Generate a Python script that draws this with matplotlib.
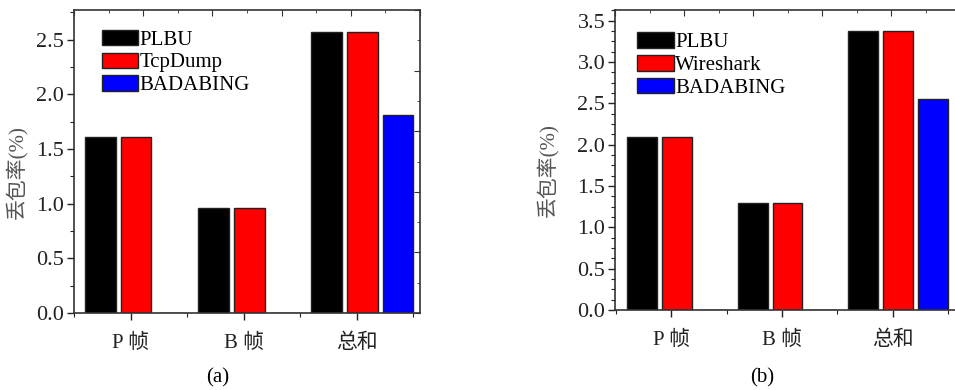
import matplotlib
matplotlib.use("Agg")
from matplotlib import pyplot as plt
from matplotlib.ticker import MultipleLocator, FormatStrFormatter
import numpy as np

plt.rcParams['font.family'] = ['Liberation Serif', 'Noto Sans CJK SC', 'DejaVu Sans']

categories = ['P 帧', 'B 帧', '总和']
plbu_a = [1.61, 0.96, 2.57]
tcpdump_a = [1.61, 0.96, 2.57]
badabing_a = [0, 0, 1.81]
plbu_b = [2.09, 1.29, 3.38]
wireshark_b = [2.09, 1.29, 3.38]
badabing_b = [0, 0, 2.55]

colors = ['black', '#ff0000', '#0000ff']
edge = '#222222'


def draw_panel(fig, rect, series, labels, ylim, yminor, xlim, leg_anchor, caption, cap_x,
               ylab_xy, right_ticks=True):
    ax = fig.add_axes(rect)
    x = np.arange(1, len(categories) + 1)
    width = 0.27
    for k, (vals, lab) in enumerate(zip(series, labels)):
        ax.bar(x + (k - 1) * 0.315 + 0.05, vals, width, color=colors[k],
               edgecolor=edge, linewidth=1.0, label=lab, zorder=2)
    ax.set_xlim(*xlim)
    ax.set_ylim(0, ylim)
    ax.set_xticks(x)
    ax.set_xticklabels(categories, fontsize=15)
    ax.xaxis.set_minor_locator(MultipleLocator(0.5))
    ax.yaxis.set_major_locator(MultipleLocator(0.5))
    ax.yaxis.set_minor_locator(MultipleLocator(yminor))
    ax.yaxis.set_major_formatter(FormatStrFormatter('%.1f'))
    ax.tick_params(axis='both', which='major', length=5, width=1.0, colors='#222222', labelsize=16)
    ax.tick_params(axis='x', which='major', labelsize=15, pad=10)
    ax.tick_params(axis='both', which='minor', length=3, width=0.8, colors='#222222')
    ax.tick_params(axis='y', which='major', pad=2)
    for s in ax.spines.values():
        s.set_color('#333333')
        s.set_linewidth(1.2)
    ax.set_ylabel('丢包率(%)', fontsize=15, color='#555555')
    ax.yaxis.set_label_coords(*ylab_xy)

    # frame ticks on top and right (independent 0-10 scale)
    top = ax.twiny()
    top.set_xlim(0, 10)
    top.xaxis.set_major_locator(MultipleLocator(2))
    top.xaxis.set_minor_locator(MultipleLocator(1))
    top.tick_params(axis='x', which='both', direction='in', labeltop=False, colors='#333333')
    top.tick_params(axis='x', which='major', length=4)
    top.tick_params(axis='x', which='minor', length=2)
    for s in top.spines.values():
        s.set_visible(False)
    if right_ticks:
        right = ax.twinx()
        right.set_ylim(0, 10)
        right.yaxis.set_major_locator(MultipleLocator(2))
        right.yaxis.set_minor_locator(MultipleLocator(1))
        right.tick_params(axis='y', which='both', direction='in', labelright=False, colors='#333333')
        right.tick_params(axis='y', which='major', length=4)
        right.tick_params(axis='y', which='minor', length=2)
        for s in right.spines.values():
            s.set_visible(False)
    else:
        ax.spines['right'].set_visible(False)

    ax.legend(loc='upper left', bbox_to_anchor=leg_anchor, frameon=False, fontsize=15,
              handlelength=1.75, handleheight=0.75, handletextpad=0.05, labelspacing=0.14,
              borderpad=0, borderaxespad=0)
    fig.text(cap_x, 1 - 378 / 390, caption, fontsize=15, ha='center', va='center')
    return ax


fig = plt.figure(figsize=(9.55, 3.9), dpi=100)
fig.patch.set_facecolor('white')

draw_panel(fig, [74 / 955, 1 - 313 / 390, 346 / 955, 303 / 390],
           [plbu_a, tcpdump_a, badabing_a], ['PLBU', 'TcpDump', 'BADABING'],
           2.77, 0.25, (0.5, 3.56), (0.08, 0.935), '(a)', 218 / 955, (-0.136, 0.465))
draw_panel(fig, [615 / 955, 1 - 310 / 390, 345 / 955, 300 / 390],
           [plbu_b, wireshark_b, badabing_b], ['PLBU', 'Wireshark', 'BADABING'],
           3.63, 0.125, (0.49, 3.61), (0.065, 0.925), '(b)', 762 / 955, (-0.165, 0.467),
           right_ticks=False)

fig.savefig('out.png', dpi=100)
